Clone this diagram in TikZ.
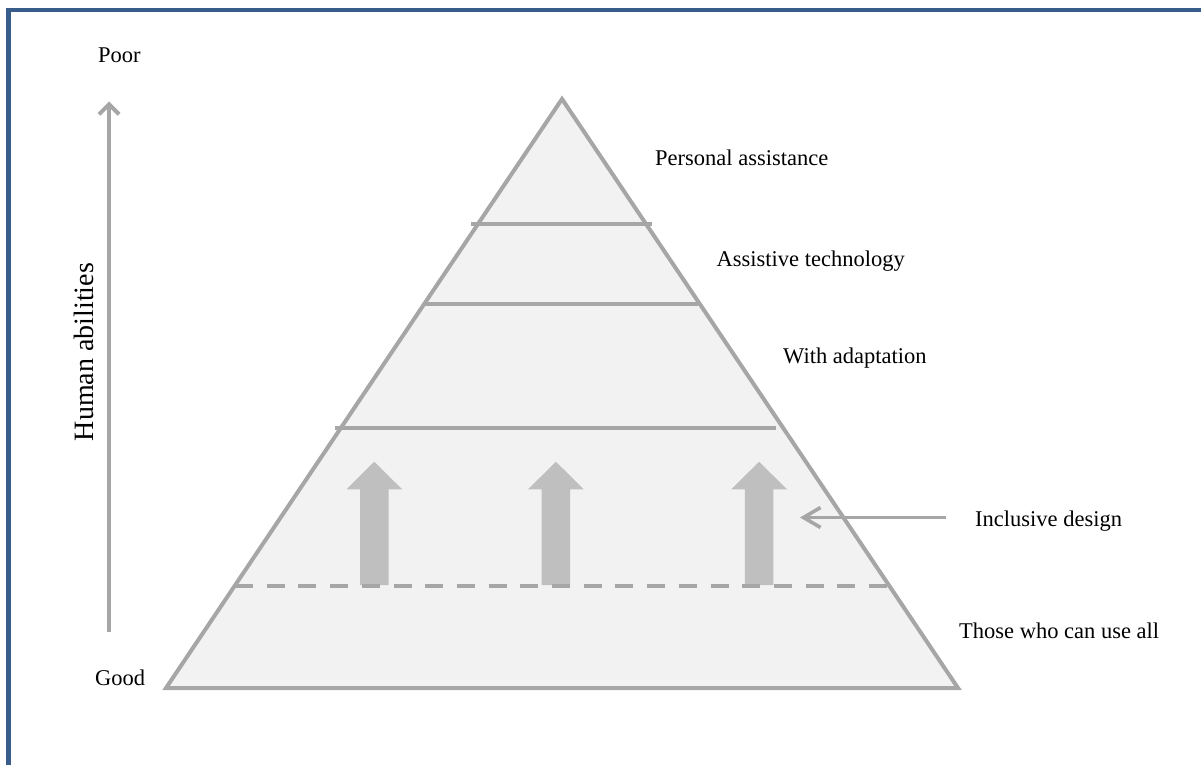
\documentclass[tikz,border=0pt]{standalone}
\usepackage{fontspec}
\setmainfont{Liberation Serif}
\usetikzlibrary{arrows.meta}
\definecolor{pyrline}{HTML}{A6A6A6}
\definecolor{pyrfill}{HTML}{F2F2F2}
\definecolor{blockgray}{HTML}{BFBFBF}
\definecolor{frameblue}{HTML}{385D8A}
\tikzset{
  pyr/.style={draw=pyrline, fill=pyrfill, line width=4pt, line join=miter},
  tier/.style={draw=pyrline, line width=4pt},
  dashtier/.style={draw=pyrline, line width=4pt, dash pattern=on 18pt off 13.7pt},
  blockarrow/.style={fill=blockgray, draw=none},
  lbl/.style={inner sep=0pt, anchor=base west, font=\fontsize{22.5}{27}\selectfont},
  pointer/.style={draw=pyrline, line width=3.6pt, -{Straight Barb[length=17pt,width=20pt]}},
  axisarrow/.style={draw=pyrline, line width=4pt, -{Straight Barb[length=10pt,width=20pt]}},
}
\begin{document}
\begin{tikzpicture}[x=1pt,y=-1pt]
\useasboundingbox (0,0) rectangle (1201,765);
% frame
\draw[frameblue, line width=4.4pt] (8.5,765) -- (8.5,10) -- (1201,10);
% pyramid
\coordinate (apex) at (562,99);
\coordinate (bl) at (166,688);
\coordinate (br) at (958,688);
\path[pyr] (apex) -- (br) -- (bl) -- cycle;
% tier lines
\coordinate (t1l) at (471,224.3); \coordinate (t1r) at (652,224.3);
\coordinate (t2l) at (423,304);   \coordinate (t2r) at (698,304);
\coordinate (t3l) at (335,427.5); \coordinate (t3r) at (776,427.5);
\coordinate (t4l) at (235,586);   \coordinate (t4r) at (887,586);
\draw[tier] (t1l) -- (t1r);
\draw[tier] (t2l) -- (t2r);
\draw[tier] (t3l) -- (t3r);
% block arrows
\foreach \cx in {374.3,555.9,759.1}{
  \path[blockarrow] (\cx-14.2,585) -- (\cx-14.2,489.3) -- (\cx-27.8,489.3) -- (\cx,461.7)
     -- (\cx+27.8,489.3) -- (\cx+14.2,489.3) -- (\cx+14.2,585) -- cycle;
}
\draw[dashtier] (t4l) -- (t4r);
% labels
\node[lbl] (pers) at (655,165) {Personal assistance};
\node[lbl] (asst) at (716.5,266.7) {Assistive technology};
\node[lbl] (adap) at (783,363) {With adaptation};
\node[lbl] (incl) at (975,526) {Inclusive design};
\node[lbl] (all) at (959,638) {Those who can use all};
\node[lbl] (poor) at (98,63) {Poor};
\node[lbl] (good) at (95,685) {Good};
\node[inner sep=0pt, anchor=base, rotate=90, font=\fontsize{28}{33}\selectfont] (hum) at (93,352) {Human abilities};
% pointer arrow
\coordinate (ptrstart) at (946,517.5);
\coordinate (ptrend) at (800,517.5);
\draw[pointer] (ptrstart) -- (ptrend);
% axis arrow
\coordinate (axbot) at (109,632);
\coordinate (axtop) at (109,101.5);
\draw[axisarrow] (axbot) -- (axtop);
\end{tikzpicture}
\end{document}
